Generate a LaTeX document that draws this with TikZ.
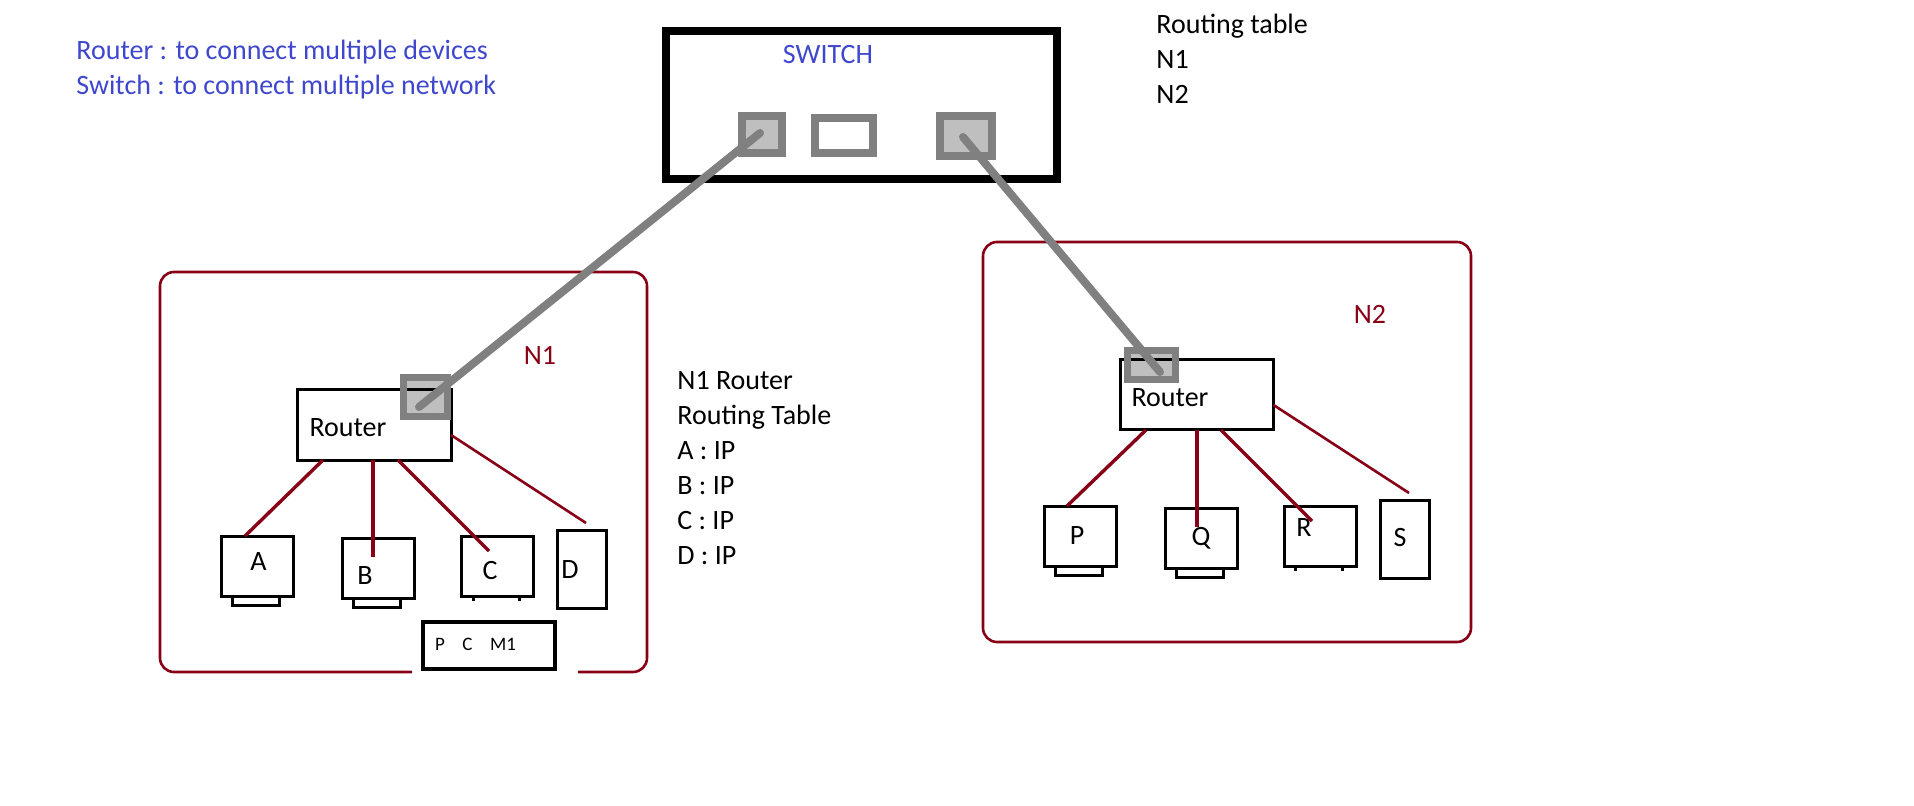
\documentclass[tikz,border=0pt]{standalone}
\usepackage{fontspec}
\setmainfont{Carlito}
\definecolor{netred}{HTML}{880015}
\definecolor{noteblue}{HTML}{3F48CC}
\definecolor{portgray}{HTML}{808080}
\begin{document}
\begin{tikzpicture}[
		x=0.5pt, y=-0.5pt,
		txt/.style={font=\fontsize{14}{17.5}\selectfont, inner sep=0pt, align=left},
		small/.style={font=\fontsize{9.5}{11}\selectfont, inner sep=0pt},
		netbox/.style={draw=netred, line width=1.3pt, rounded corners=7pt},
		link/.style={draw=netred, line width=1.7pt},
		thinlink/.style={draw=netred, line width=1.3pt},
		box/.style={draw, line width=1.5pt, inner sep=0pt, outer sep=0pt},
		pc/.style={box, minimum width=36pt, minimum height=30pt},
		foot/.style={box, minimum width=23.5pt, minimum height=4.5pt},
		port/.style={draw=portgray, line width=3.8pt, inner sep=0pt, fill=black, fill opacity=.25, draw opacity=1},
		cable/.style={draw=portgray, line width=4pt, line cap=round}
	]
	\useasboundingbox (0,0) rectangle (1914,806);

	% notes at the top
	\node[txt, text=noteblue, anchor=west] (note1) at (76,52) {Router : to connect multiple devices};
	\node[txt, text=noteblue, anchor=west] (note2) at (76,87) {Switch : to connect multiple network};
	\node[txt, anchor=north west] (swtable) at (1156,14) {Routing table\\N1\\N2};
	\node[txt, anchor=north west] (n1table) at (677,371) {N1 Router\\Routing Table\\A : IP\\B : IP\\C : IP\\D : IP};

	% switch
	\node[box, line width=4pt, minimum width=195.5pt, minimum height=74pt] (switch) at (861.5,105) {};
	\node[txt, text=noteblue] (swlabel) at (828,55) {SWITCH};
	\node[port, minimum width=20pt, minimum height=18.5pt] (sp1) at (762,134.5) {};
	\node[draw=portgray, line width=3.8pt, inner sep=0pt, minimum width=29pt, minimum height=17.5pt] (sp2) at (844,135.5) {};
	\node[port, minimum width=26pt, minimum height=20pt] (sp3) at (966,136) {};

	% network N1
	\draw[netbox] (412,672) -- (160,672) -- (160,272) -- (647,272) -- (647,672) -- (578,672);
	\node[txt, text=netred] (n1label) at (540,355) {N1};
	\node[box, minimum width=77pt, minimum height=35pt] (r1) at (374,425) {};
	\node[txt] (r1label) at (348,428) {Router};
	\node[port, line width=3.5pt, minimum width=22pt, minimum height=19.5pt] (r1port) at (425.5,397) {};

	\node[pc] (a) at (257.5,566) {};
	\node[foot] (afoot) at (255.5,600.5) {};
	\node[txt] (alabel) at (258.5,562) {A};
	\node[pc] (b) at (378.5,568) {};
	\node[foot] (bfoot) at (376.5,602.5) {};
	\node[txt] (blabel) at (365,576) {B};
	\node[pc] (c) at (497.5,566) {};
	\node[txt] (clabel) at (490,571) {C};
	\draw[box] ([xshift=-12.25pt]c.south) -- ++(0,5);
	\draw[box] ([xshift=10.75pt]c.south) -- ++(0,5);
	\node[box, minimum width=24.5pt, minimum height=39pt] (d) at (582,569) {};
	\node[txt] (dlabel) at (570,570) {D};

	% P C M1 box
	\node[box, line width=1.8pt, minimum width=66pt, minimum height=23.5pt] (pcm) at (489,645.5) {};
	\node[small] (pcmp) at (440,644) {P};
	\node[small] (pcmc) at (467.5,644) {C};
	\node[small] (pcmm) at (503,644) {M1};

	\coordinate (bend) at (373,557);
	\coordinate (cend) at (489,551);
	\coordinate (dend) at (586,523);
	\draw[link] ([xshift=-25.5pt]r1.south) -- ([xshift=-6.25pt]a.north);
	\draw[link] ([xshift=-.5pt]r1.south) -- (bend);
	\draw[link] ([xshift=12pt]r1.south) -- (cend);
	\draw[thinlink] ([yshift=-5pt]r1.east) -- (dend);

	% network N2
	\draw[netbox] (983,242) rectangle (1471,642);
	\node[txt, text=netred] (n2label) at (1370,314) {N2};
	\node[box, minimum width=76.5pt, minimum height=35pt] (r2) at (1197,395) {};
	\node[txt] (r2label) at (1170,398) {Router};
	\node[port, line width=3.5pt, minimum width=24pt, minimum height=14.5pt] (r2port) at (1151.5,365) {};

	\node[pc] (p) at (1080.5,536) {};
	\node[foot] (pfoot) at (1078.5,570.5) {};
	\node[txt] (plabel) at (1077,536) {P};
	\node[pc] (q) at (1201.5,538) {};
	\node[foot] (qfoot) at (1199.5,572.5) {};
	\node[txt] (qlabel) at (1201,538) {Q};
	\node[pc] (rr) at (1320.5,536) {};
	\node[txt] (rlabel) at (1304,528) {R};
	\draw[box] ([xshift=-12.5pt]rr.south) -- ++(0,5);
	\draw[box] ([xshift=11pt]rr.south) -- ++(0,5);
	\node[box, minimum width=24.5pt, minimum height=39pt] (s) at (1404.5,539) {};
	\node[txt] (slabel) at (1400,538) {S};

	\coordinate (qend) at (1197,527);
	\coordinate (rend) at (1312,521);
	\coordinate (send) at (1409,493);
	\draw[link] ([xshift=-25.5pt]r2.south) -- ([xshift=-6.75pt]p.north);
	\draw[link] (r2.south) -- (qend);
	\draw[link] ([xshift=12pt]r2.south) -- (rend);
	\draw[thinlink] ([yshift=-5pt]r2.east) -- (send);

	% cables from switch to routers
	\coordinate (c1a) at (760,133);
	\coordinate (c1b) at (419,407);
	\coordinate (c2a) at (963,137);
	\coordinate (c2b) at (1160,372);
	\draw[cable] (c1a) -- (c1b);
	\draw[cable] (c2a) -- (c2b);
\end{tikzpicture}
\end{document}
